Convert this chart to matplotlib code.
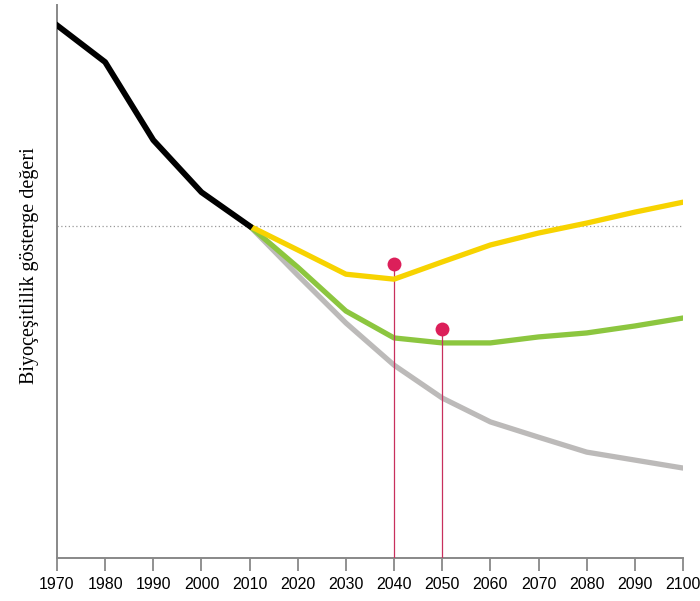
import matplotlib
matplotlib.use('Agg')
import matplotlib.pyplot as plt

# index values, 2010 = 1.0
years_hist = [1970, 1980, 1990, 2000, 2010]
hist = [1.605, 1.494, 1.259, 1.102, 1.0]

years_proj = [2010, 2020, 2030, 2040, 2050, 2060, 2070, 2080, 2090, 2100]
yellow = [1.0, 0.928, 0.855, 0.840, 0.892, 0.943, 0.979, 1.009, 1.042, 1.072]
green = [1.0, 0.876, 0.744, 0.663, 0.648, 0.648, 0.666, 0.678, 0.699, 0.723]
grey = [1.0, 0.852, 0.708, 0.581, 0.482, 0.410, 0.364, 0.319, 0.295, 0.271]

dot_years = [2040, 2050]
dot_vals = [0.886, 0.690]

ticks = list(range(1970, 2101, 10))

fig = plt.figure(figsize=(7, 6.01), dpi=100)
ax = fig.add_axes([57/700, 43/601, 626/700, 553/601])

ax.axhline(1.0, color='#999999', lw=0.9, ls=(0, (1, 2)), zorder=1)

ax.plot(years_proj, grey, color='#bcbab9', lw=3.8, solid_capstyle='round', zorder=2)
ax.plot(years_proj, green, color='#8cc63f', lw=3.8, solid_capstyle='round', zorder=3)
ax.plot(years_proj, yellow, color='#f7d300', lw=3.8, solid_capstyle='round', zorder=4)
ax.plot(years_hist, hist, color='black', lw=4.2, zorder=5)

ax.vlines(dot_years, 0, dot_vals, color='#c8305e', lw=0.9, zorder=3.5)
ax.plot(dot_years, dot_vals, 'o', color='#dc1f5a', ms=10, mec='none', zorder=6)

ax.set_xlim(1970, 2100)
ax.set_ylim(0, 1.666)
ax.set_xticks(ticks)
ax.set_xticklabels([str(t) for t in ticks], family='Liberation Sans', fontsize=11.5)
ax.set_yticks([])
ax.tick_params(axis='x', direction='out', length=9, width=1.3, color='#888888', pad=5)

for s in ['top', 'right']:
    ax.spines[s].set_visible(False)
for s in ['left', 'bottom']:
    ax.spines[s].set_color('#888888')
    ax.spines[s].set_linewidth(1.4)

ax.set_ylabel('Biyoçeşitlilik gösterge değeri', family='Liberation Serif', fontsize=14.5)
ax.yaxis.set_label_coords(-0.029, 0.528)

fig.savefig('out.png', dpi=100)
